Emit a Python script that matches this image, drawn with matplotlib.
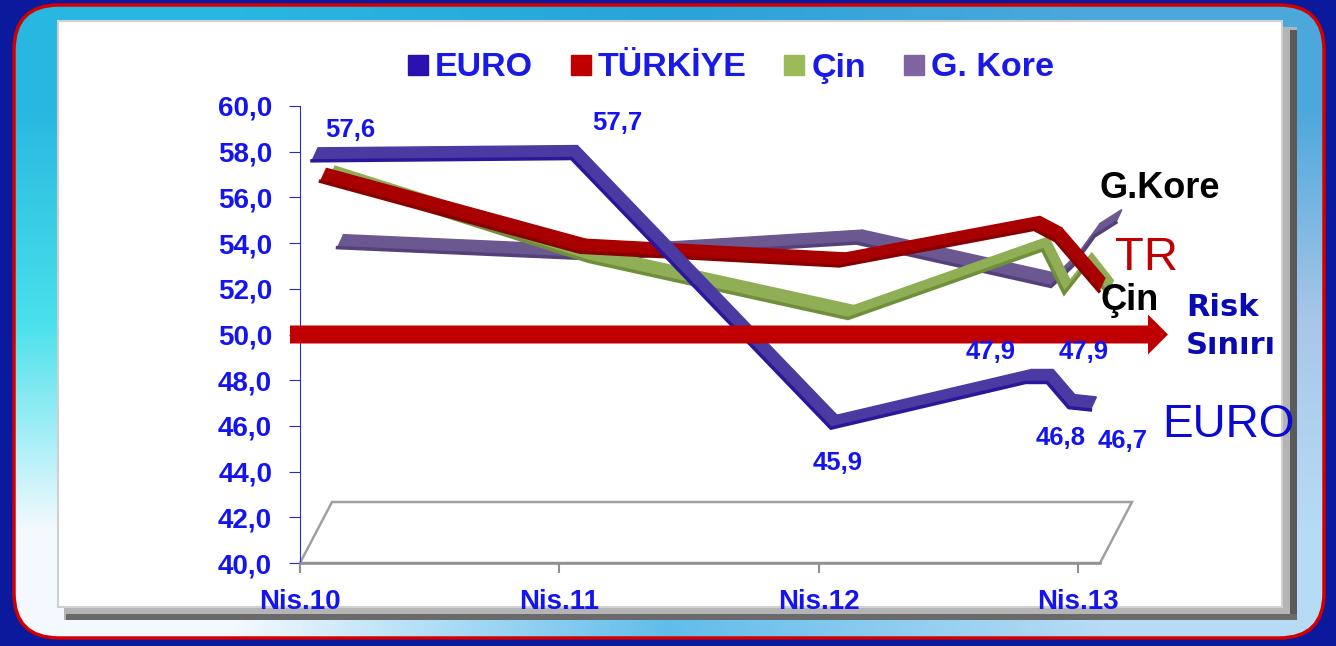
import matplotlib
matplotlib.use('Agg')
import matplotlib.pyplot as plt
import numpy as np
from matplotlib.patches import FancyBboxPatch, Rectangle, Polygon, FancyArrow
from matplotlib.lines import Line2D

plt.rcParams['font.family'] = ['Liberation Sans', 'DejaVu Sans']

# PMI verileri (Nisan 2010 -> Nisan 2013), x = Nis.10'dan itibaren ay
months = [0, 12, 24, 33, 34, 35, 36]
euro = [57.6, 57.7, 45.9, 47.9, 47.9, 46.8, 46.7]
turkiye = [56.0, 52.9, 52.3, 53.9, 53.4, 52.3, 51.2]
cin = [55.4, 51.8, 49.3, 52.3, 50.4, 51.6, 50.4]
kore = [51.7, 51.2, 51.9, 50.0, 50.9, 52.2, 52.8]

series_names = ['EURO', 'TÜRKİYE', 'Çin', 'G. Kore']
tick_months = [0, 12, 24, 36]
tick_labels = ['Nis.10', 'Nis.11', 'Nis.12', 'Nis.13']
risk_level = 50.0

W, H = 1336, 646
fig = plt.figure(figsize=(W / 100, H / 100), dpi=100)
fig.patch.set_facecolor('#0b1a9c')

# background frame, in pixel coords
bg = fig.add_axes([0, 0, 1, 1])
bg.set_xlim(0, W)
bg.set_ylim(H, 0)
bg.axis('off')

frame = FancyBboxPatch((14, 5), 1310, 633, boxstyle='round,pad=0,rounding_size=45',
                       fc='none', ec='#d40000', lw=2.5, zorder=3)
grad = np.array([
    [[0.16, 0.72, 0.88], [0.16, 0.64, 0.85], [0.30, 0.66, 0.86]],
    [[0.28, 0.88, 0.92], [0.80, 0.90, 0.96], [0.66, 0.78, 0.91]],
    [[0.96, 0.98, 1.00], [0.38, 0.74, 0.92], [0.72, 0.86, 0.96]],
])
im = bg.imshow(grad, extent=(14, 1324, 638, 5), interpolation='bilinear', aspect='auto', zorder=1)
bg.add_patch(frame)
im.set_clip_path(frame)

# white panel with shadow
bg.add_patch(Rectangle((64, 27), 1233, 593, fc='#b4b4b4', ec='none', zorder=4))
bg.add_patch(Rectangle((1290, 30), 7, 590, fc='#5a5a5a', ec='none', zorder=4))
bg.add_patch(Rectangle((66, 614), 1231, 6, fc='#6a6a6a', ec='none', zorder=4))
bg.add_patch(Rectangle((58, 21), 1224, 586, fc='white', ec='#d0d0d0', lw=1.5, zorder=5))
bg.set_xlim(0, W)
bg.set_ylim(H, 0)

# main plot
ax = fig.add_axes([300 / W, (H - 563) / H, 800 / W, 457 / H])
ax.patch.set_alpha(0)
ax.set_xlim(0, 37)
ax.set_ylim(40, 60)
pxm = 800 / 37.0   # pixels per month
pxu = 457 / 20.0   # pixels per unit

for s in ['top', 'right']:
    ax.spines[s].set_visible(False)
ax.spines['left'].set_color('#2a2ad0')
ax.spines['bottom'].set_color('#909090')
ax.spines['bottom'].set_linewidth(1.8)

ax.set_yticks(np.arange(40, 61, 2))
ax.set_yticklabels([f"{v:.1f}".replace('.', ',') for v in np.arange(40, 61, 2)])
ax.tick_params(axis='y', colors='#2a2ad0', length=8, pad=12, labelsize=20, labelcolor='#1414f0')
ax.set_xticks(tick_months)
ax.set_xticklabels(tick_labels)
ax.tick_params(axis='x', colors='#909090', length=7, width=1.5, pad=12, labelsize=20, labelcolor='#1414f0')
for lab in ax.get_xticklabels() + ax.get_yticklabels():
    lab.set_fontweight('bold')

# 3D floor
fdx, fdy = 32 / pxm, 61 / pxu
floor = Polygon([(0, 40), (fdx, 40 + fdy), (37 + fdx, 40 + fdy), (37, 40)], closed=True,
                fc='none', ec='#a0a0a0', lw=1.8, clip_on=False, zorder=1)
ax.add_patch(floor)

# ribbons, back to front
styles = [
    (euro, '#4a3aa2', '#2a189a', 0),
    (turkiye, '#a80000', '#880000', 1),
    (cin, '#8fae55', '#6f8f3a', 2),
    (kore, '#6c5890', '#54407a', 3),
]
rdx, rdy = 6 / pxm, 13 / pxu
for vals, face, edge, depth in styles[::-1]:
    fx = np.array(months) + (12 + depth * 8.5) / pxm
    fy = np.array(vals) + depth * 16 / pxu
    for j in range(len(fx) - 1):
        quad = [(fx[j], fy[j]), (fx[j + 1], fy[j + 1]),
                (fx[j + 1] + rdx, fy[j + 1] + rdy), (fx[j] + rdx, fy[j] + rdy)]
        ax.add_patch(Polygon(quad, closed=True, fc=face, ec=face, lw=1,
                             clip_on=False, zorder=2 + (3 - depth)))
    ax.plot(fx, fy, color=edge, lw=2.5, solid_joinstyle='miter', clip_on=False, zorder=2 + (3 - depth))

# risk arrow
ax.add_patch(FancyArrow(-10 / pxm, risk_level, (1168 - 290) / pxm, 0, width=18 / pxu,
                        head_width=40 / pxu, head_length=20 / pxm, length_includes_head=True,
                        fc='#c00000', ec='none', clip_on=False, zorder=10))

# EURO data labels
label_offsets = [(38, 31), (46, 36), (7, -35), (-35, 30), (36, 30), (-8, -30), (32, -31)]
for m, v, off in zip(months, euro, label_offsets):
    ax.annotate(f"{v:.1f}".replace('.', ','), (m + 12 / pxm, v), xytext=off,
                textcoords='offset pixels', ha='center', va='center', fontsize=18.5,
                fontweight='bold', color='#1414f0', zorder=12, annotation_clip=False)

# legend
handles = [Line2D([], [], marker='s', ls='', markersize=14, color=c)
           for c in ['#2a10b0', '#c00000', '#9bbb59', '#8064a2']]
fig.legend(handles, series_names, loc='center', bbox_to_anchor=(729 / W, 1 - 68 / H), ncol=4,
           frameon=False, prop={'weight': 'bold', 'size': 24.5}, labelcolor='#1a1ae6',
           handletextpad=0.1, columnspacing=1.0, handlelength=0.8)

# right-side annotations (pixel coords)
t = bg.transData
ax.text(1160, 188, 'G.Kore', transform=t, ha='center', va='center', fontsize=26,
        fontweight='bold', color='black', zorder=12)
ax.text(1146, 258, 'TR', transform=t, ha='center', va='center', fontsize=34,
        color='#c00000', zorder=12)
ax.text(1130, 300, 'Çin', transform=t, ha='center', va='center', fontsize=26,
        fontweight='bold', color='black', zorder=12)
ax.text(1186, 307, 'Risk', transform=t, ha='left', va='center', fontsize=22,
        fontweight='bold', color='#0a0ab4', family='DejaVu Sans', zorder=12)
ax.text(1186, 345, 'Sınırı', transform=t, ha='left', va='center', fontsize=22,
        fontweight='bold', color='#0a0ab4', family='DejaVu Sans', zorder=12)
ax.text(1229, 425, 'EURO', transform=t, ha='center', va='center', fontsize=33,
        color='#0a0ad0', zorder=12)

fig.savefig('out.png', dpi=100, facecolor=fig.get_facecolor())
